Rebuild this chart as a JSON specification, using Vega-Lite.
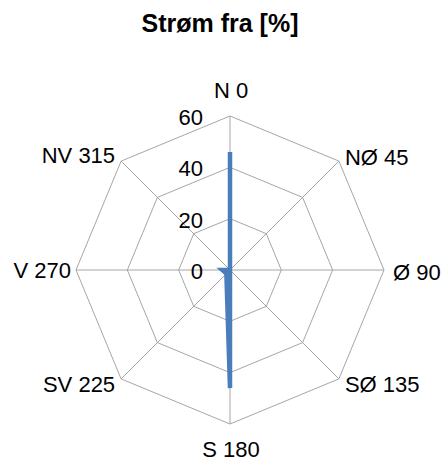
{
  "$schema": "https://vega.github.io/schema/vega-lite/v6.json",
  "width": 308,
  "height": 308,
  "autosize": {"type": "none"},
  "padding": {"left": 76, "top": 116, "right": 59, "bottom": 39},
  "background": "white",
  "config": {"view": {"stroke": null}, "text": {"font": "Liberation Sans", "fontSize": 22, "color": "#000000"}},
  "title": {"text": "Strøm fra [%]", "font": "Liberation Sans", "fontSize": 25, "fontWeight": "bold", "color": "#000000", "anchor": "middle", "frame": "group", "baseline": "alphabetic", "offset": 23, "dx": -10},
  "datasets": {
    "dirs": [
      {"dir": "N 0", "angle": 0, "value": 46},
      {"dir": "NØ 45", "angle": 45, "value": 0},
      {"dir": "Ø 90", "angle": 90, "value": 0},
      {"dir": "SØ 135", "angle": 135, "value": 0},
      {"dir": "S 180", "angle": 180, "value": 46},
      {"dir": "SV 225", "angle": 225, "value": 2},
      {"dir": "V 270", "angle": 270, "value": 3},
      {"dir": "NV 315", "angle": 315, "value": 0}
    ],
    "grid": [
      {"level": 20, "angle": 0}, {"level": 20, "angle": 45}, {"level": 20, "angle": 90}, {"level": 20, "angle": 135},
      {"level": 20, "angle": 180}, {"level": 20, "angle": 225}, {"level": 20, "angle": 270}, {"level": 20, "angle": 315},
      {"level": 40, "angle": 0}, {"level": 40, "angle": 45}, {"level": 40, "angle": 90}, {"level": 40, "angle": 135},
      {"level": 40, "angle": 180}, {"level": 40, "angle": 225}, {"level": 40, "angle": 270}, {"level": 40, "angle": 315},
      {"level": 60, "angle": 0}, {"level": 60, "angle": 45}, {"level": 60, "angle": 90}, {"level": 60, "angle": 135},
      {"level": 60, "angle": 180}, {"level": 60, "angle": 225}, {"level": 60, "angle": 270}, {"level": 60, "angle": 315}
    ],
    "ticks": [{"level": 0}, {"level": 20}, {"level": 40}, {"level": 60}]
  },
  "resolve": {"scale": {"x": "shared", "y": "shared"}},
  "layer": [
    {
      "data": {"name": "grid"},
      "transform": [
        {"calculate": "datum.level * sin(datum.angle * PI / 180)", "as": "gx"},
        {"calculate": "datum.level * cos(datum.angle * PI / 180)", "as": "gy"}
      ],
      "mark": {"type": "line", "interpolate": "linear-closed", "color": "#a6a6a6", "strokeWidth": 1},
      "encoding": {
        "x": {"field": "gx", "type": "quantitative", "scale": {"domain": [-60, 60], "nice": false, "zero": false}, "axis": null},
        "y": {"field": "gy", "type": "quantitative", "scale": {"domain": [-60, 60], "nice": false, "zero": false}, "axis": null},
        "detail": {"field": "level", "type": "nominal"},
        "order": {"field": "angle", "type": "quantitative"}
      }
    },
    {
      "data": {"name": "dirs"},
      "transform": [
        {"calculate": "0", "as": "cx"},
        {"calculate": "60 * sin(datum.angle * PI / 180)", "as": "sx"},
        {"calculate": "60 * cos(datum.angle * PI / 180)", "as": "sy"}
      ],
      "mark": {"type": "rule", "color": "#a6a6a6", "strokeWidth": 1},
      "encoding": {
        "x": {"field": "cx", "type": "quantitative"},
        "y": {"field": "cx", "type": "quantitative"},
        "x2": {"field": "sx"},
        "y2": {"field": "sy"}
      }
    },
    {
      "data": {"name": "ticks"},
      "transform": [{"calculate": "0", "as": "cx"}],
      "mark": {"type": "text", "align": "right", "baseline": "middle", "dx": -27, "dy": 2},
      "encoding": {
        "x": {"field": "cx", "type": "quantitative"},
        "y": {"field": "level", "type": "quantitative"},
        "text": {"field": "level", "type": "quantitative"}
      }
    },
    {
      "data": {"name": "dirs"},
      "transform": [
        {"calculate": "datum.value * sin(datum.angle * PI / 180)", "as": "px"},
        {"calculate": "datum.value * cos(datum.angle * PI / 180)", "as": "py"}
      ],
      "mark": {"type": "line", "interpolate": "linear-closed", "color": "#4a7ebb", "strokeWidth": 4.5},
      "encoding": {
        "x": {"field": "px", "type": "quantitative"},
        "y": {"field": "py", "type": "quantitative"},
        "order": {"field": "angle", "type": "quantitative"}
      }
    },
    {
      "data": {"name": "dirs"},
      "transform": [
        {"filter": "datum.angle == 0"},
        {"calculate": "60 * sin(datum.angle * PI / 180)", "as": "lx"},
        {"calculate": "60 * cos(datum.angle * PI / 180)", "as": "ly"}
      ],
      "mark": {"type": "text", "align": "center", "baseline": "alphabetic", "dx": 1, "dy": -18},
      "encoding": {"x": {"field": "lx", "type": "quantitative"}, "y": {"field": "ly", "type": "quantitative"}, "text": {"field": "dir", "type": "nominal"}}
    },
    {
      "data": {"name": "dirs"},
      "transform": [
        {"filter": "datum.angle == 45"},
        {"calculate": "60 * sin(datum.angle * PI / 180)", "as": "lx"},
        {"calculate": "60 * cos(datum.angle * PI / 180)", "as": "ly"}
      ],
      "mark": {"type": "text", "align": "left", "baseline": "alphabetic", "dx": 6, "dy": 4},
      "encoding": {"x": {"field": "lx", "type": "quantitative"}, "y": {"field": "ly", "type": "quantitative"}, "text": {"field": "dir", "type": "nominal"}}
    },
    {
      "data": {"name": "dirs"},
      "transform": [
        {"filter": "datum.angle == 90"},
        {"calculate": "60 * sin(datum.angle * PI / 180)", "as": "lx"},
        {"calculate": "60 * cos(datum.angle * PI / 180)", "as": "ly"}
      ],
      "mark": {"type": "text", "align": "left", "baseline": "alphabetic", "dx": 9, "dy": 10},
      "encoding": {"x": {"field": "lx", "type": "quantitative"}, "y": {"field": "ly", "type": "quantitative"}, "text": {"field": "dir", "type": "nominal"}}
    },
    {
      "data": {"name": "dirs"},
      "transform": [
        {"filter": "datum.angle == 135"},
        {"calculate": "60 * sin(datum.angle * PI / 180)", "as": "lx"},
        {"calculate": "60 * cos(datum.angle * PI / 180)", "as": "ly"}
      ],
      "mark": {"type": "text", "align": "left", "baseline": "alphabetic", "dx": 6, "dy": 13},
      "encoding": {"x": {"field": "lx", "type": "quantitative"}, "y": {"field": "ly", "type": "quantitative"}, "text": {"field": "dir", "type": "nominal"}}
    },
    {
      "data": {"name": "dirs"},
      "transform": [
        {"filter": "datum.angle == 180"},
        {"calculate": "60 * sin(datum.angle * PI / 180)", "as": "lx"},
        {"calculate": "60 * cos(datum.angle * PI / 180)", "as": "ly"}
      ],
      "mark": {"type": "text", "align": "center", "baseline": "alphabetic", "dx": 1, "dy": 33},
      "encoding": {"x": {"field": "lx", "type": "quantitative"}, "y": {"field": "ly", "type": "quantitative"}, "text": {"field": "dir", "type": "nominal"}}
    },
    {
      "data": {"name": "dirs"},
      "transform": [
        {"filter": "datum.angle == 225"},
        {"calculate": "60 * sin(datum.angle * PI / 180)", "as": "lx"},
        {"calculate": "60 * cos(datum.angle * PI / 180)", "as": "ly"}
      ],
      "mark": {"type": "text", "align": "right", "baseline": "alphabetic", "dx": -6, "dy": 13},
      "encoding": {"x": {"field": "lx", "type": "quantitative"}, "y": {"field": "ly", "type": "quantitative"}, "text": {"field": "dir", "type": "nominal"}}
    },
    {
      "data": {"name": "dirs"},
      "transform": [
        {"filter": "datum.angle == 270"},
        {"calculate": "60 * sin(datum.angle * PI / 180)", "as": "lx"},
        {"calculate": "60 * cos(datum.angle * PI / 180)", "as": "ly"}
      ],
      "mark": {"type": "text", "align": "right", "baseline": "alphabetic", "dx": -5, "dy": 8},
      "encoding": {"x": {"field": "lx", "type": "quantitative"}, "y": {"field": "ly", "type": "quantitative"}, "text": {"field": "dir", "type": "nominal"}}
    },
    {
      "data": {"name": "dirs"},
      "transform": [
        {"filter": "datum.angle == 315"},
        {"calculate": "60 * sin(datum.angle * PI / 180)", "as": "lx"},
        {"calculate": "60 * cos(datum.angle * PI / 180)", "as": "ly"}
      ],
      "mark": {"type": "text", "align": "right", "baseline": "alphabetic", "dx": -6, "dy": 2},
      "encoding": {"x": {"field": "lx", "type": "quantitative"}, "y": {"field": "ly", "type": "quantitative"}, "text": {"field": "dir", "type": "nominal"}}
    }
  ]
}
